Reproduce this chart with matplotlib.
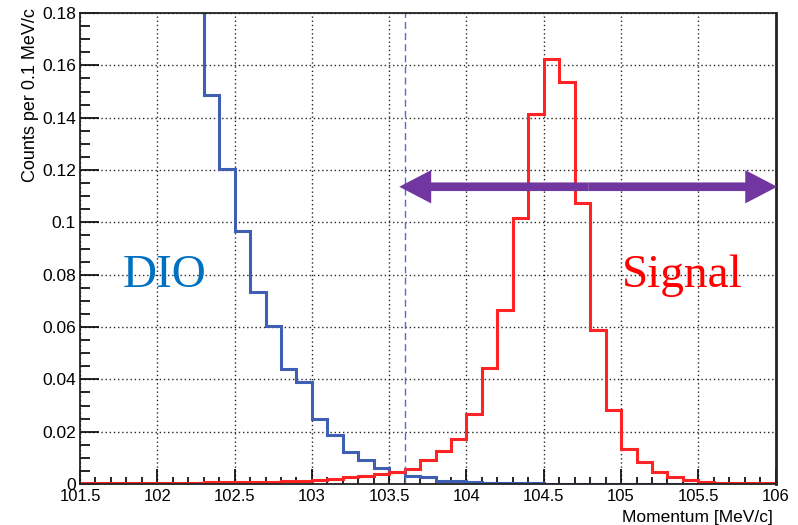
import matplotlib as mpl
mpl.use("Agg")
import matplotlib.pyplot as plt
from matplotlib.patches import FancyArrowPatch
from matplotlib.ticker import MultipleLocator
import numpy as np

# bin edges of the momentum histograms (0.1 MeV/c bins)
edges = np.round(np.linspace(101.5, 106.0, 46), 2)

# DIO background, per bin (first bins run off the top of the plot)
dio = [0.62, 0.55, 0.48, 0.42, 0.36, 0.30, 0.25, 0.21,
       0.1488, 0.1205, 0.0967, 0.0735, 0.0605, 0.0438, 0.0389, 0.0247, 0.0187, 0.0124,
       0.0092, 0.0060, 0.0047, 0.0030, 0.0025, 0.0012, 0.0010, 0.0007, 0.0005, 0.0004,
       0.0002, 0.0002, 0.0001, 0.0001, 0.0001, 0.0, 0.0, 0.0, 0.0, 0.0,
       0.0, 0.0, 0.0, 0.0, 0.0, 0.0, 0.0]

# conversion signal, per bin
signal = [0.0003, 0.0003, 0.0003, 0.0004, 0.0004, 0.0004, 0.0005, 0.0005, 0.0006, 0.0006,
          0.0007, 0.0008, 0.0009, 0.0010, 0.0011,
          0.0015, 0.0020, 0.0026, 0.0032, 0.0040,
          0.0046, 0.0056, 0.0092, 0.0126, 0.0171,
          0.0266, 0.0442, 0.0665, 0.1016, 0.1414,
          0.1624, 0.1536, 0.1073, 0.0589, 0.0283,
          0.0134, 0.0083, 0.0045, 0.0028, 0.0015,
          0.0009, 0.0005, 0.0003, 0.0002, 0.0002]

x_ticks = [101.5, 102, 102.5, 103, 103.5, 104, 104.5, 105, 105.5, 106]
x_labels = ["101.5", "102", "102.5", "103", "103.5", "104", "104.5", "105", "105.5", "106"]
y_ticks = [0, 0.02, 0.04, 0.06, 0.08, 0.1, 0.12, 0.14, 0.16, 0.18]
y_labels = ["0", "0.02", "0.04", "0.06", "0.08", "0.1", "0.12", "0.14", "0.16", "0.18"]

cut = 103.6          # momentum cut
window = (103.565, 106.01, 0.1136)   # signal window arrow (x0, x1, y)

plt.rcParams['font.family'] = ['Liberation Sans', 'DejaVu Sans']

fig = plt.figure(figsize=(7.98, 5.25), dpi=100)
ax = fig.add_axes([0.1003, 0.0781, 0.8717, 0.8971])

ax.stairs(dio, edges, baseline=None, color='#3f5fb5', lw=2.2)
ax.stairs(signal, edges, baseline=None, color='#ff2323', lw=2.2)

ax.axvline(cut, color='#4a6fd0', lw=1.0, ls=(0, (5, 3)))

# double arrow showing the signal window
xm = 0.5 * (window[0] + window[1])
for xe in (window[0], window[1]):
    arr = FancyArrowPatch((xm, window[2]), (xe, window[2]),
                          arrowstyle='simple,head_length=2.3,head_width=2.4,tail_width=0.62',
                          mutation_scale=10, color='#7236a0', lw=0,
                          shrinkA=0, shrinkB=0, clip_on=False, zorder=5)
    ax.add_patch(arr)

ax.text(101.776, 0.0751, "DIO", family='Liberation Serif', fontsize=34,
        color='#0070c0', va='baseline', ha='left')
ax.text(105.004, 0.0751, "Signal", family='Liberation Serif', fontsize=34,
        color='#ff0000', va='baseline', ha='left')

ax.set_xlim(101.5, 106)
ax.set_ylim(0, 0.18)
ax.set_xticks(x_ticks)
ax.set_xticklabels(x_labels)
ax.set_yticks(y_ticks)
ax.set_yticklabels(y_labels)
ax.xaxis.set_minor_locator(MultipleLocator(0.1))
ax.yaxis.set_minor_locator(MultipleLocator(0.005))

ax.tick_params(axis='both', which='both', direction='in', color='black', width=1.2,
               labelsize=12.5, top=False, right=False)
ax.tick_params(axis='y', which='major', length=14, pad=3)
ax.tick_params(axis='y', which='minor', length=7.5)
ax.tick_params(axis='x', which='major', length=10.5, pad=3.5, labelsize=12)
ax.tick_params(axis='x', which='minor', length=5)

ax.grid(True, which='major', color='black', lw=1.0, ls=(0, (1, 2)), alpha=0.85)
ax.set_axisbelow(True)
for s in ax.spines.values():
    s.set_linewidth(1.3)
    s.set_color('#222222')
ax.spines['right'].set_linewidth(2.0)

fig.text(31 / 798, 1 - 8 / 525, "Counts per 0.1 MeV/c", rotation=90,
         ha='center', va='top', fontsize=13)
fig.text(773 / 798, 1 - 522 / 525, "Momentum [MeV/c]", ha='right', va='baseline',
         fontsize=12.5)

fig.savefig("out.png", dpi=100)
